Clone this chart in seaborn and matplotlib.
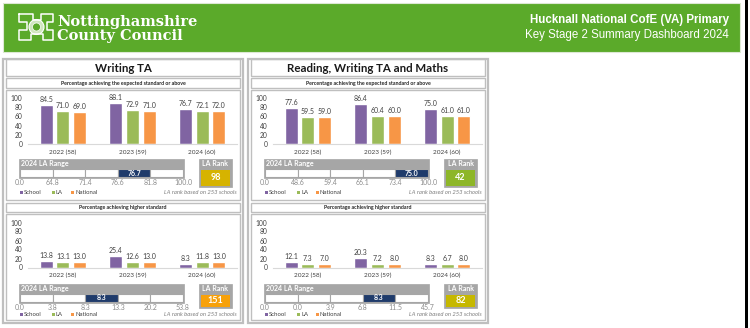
import numpy as np
import pandas as pd
import matplotlib
matplotlib.use("Agg")
import matplotlib.pyplot as plt
from matplotlib.patches import Rectangle, Circle
import seaborn as sns

# ---------------- data ----------------
years = ["2022 (58)", "2023 (59)", "2024 (60)"]
groups = ["School", "LA", "National"]

writing_exp_school = [84.5, 88.1, 76.7]
writing_exp_la = [71.0, 72.9, 72.1]
writing_exp_nat = [69.0, 71.0, 72.0]

writing_hi_school = [13.8, 25.4, 8.3]
writing_hi_la = [13.1, 12.6, 11.8]
writing_hi_nat = [13.0, 13.0, 13.0]

rwm_exp_school = [77.6, 86.4, 75.0]
rwm_exp_la = [59.5, 60.4, 61.0]
rwm_exp_nat = [59.0, 60.0, 61.0]

rwm_hi_school = [12.1, 20.3, 8.3]
rwm_hi_la = [7.3, 7.2, 6.7]
rwm_hi_nat = [7.0, 8.0, 8.0]

writing_exp_range = [0.0, 64.8, 71.4, 76.6, 81.8, 100.0]
writing_hi_range = [0.0, 3.8, 8.3, 13.3, 20.2, 53.8]
rwm_exp_range = [0.0, 48.6, 59.4, 66.1, 73.4, 100.0]
rwm_hi_range = [0.0, 0.0, 3.9, 6.8, 11.5, 45.7]

writing_exp_rank = 98
writing_hi_rank = 151
rwm_exp_rank = 42
rwm_hi_rank = 82
n_schools = 253

panel_titles = ["Writing TA", "Reading, Writing TA and Maths"]
sub_titles = ["Percentage achieving the expected standard or above",
              "Percentage achieving higher standard"]

# ---------------- style ----------------
sns.set_theme(style="white")
plt.rcParams["font.family"] = ["Lato", "DejaVu Sans"]

PAL = {"School": "#8064A2", "LA": "#9BBB59", "National": "#F79646"}
GREEN = "#5BAA2A"
BORDER = "#BFBFBF"
HDR_GREY = "#A6A6A6"
NAVY = "#1F3B6B"
TXT = "#404040"
rank_colors = {"we": "#D6B300", "wh": "#F7A10A", "re": "#8DB628", "rh": "#C6B800"}

W, H = 750, 328
fig = plt.figure(figsize=(W / 100, H / 100), dpi=100)
fig.patch.set_facecolor("white")

bg = fig.add_axes([0, 0, 1, 1])
bg.set_xlim(0, W)
bg.set_ylim(H, 0)
bg.axis("off")
bg.set_zorder(0)


def axpx(x0, y0, x1, y1):
    ax = fig.add_axes([x0 / W, 1 - y1 / H, (x1 - x0) / W, (y1 - y0) / H])
    ax.patch.set_alpha(0)
    ax.set_zorder(2)
    return ax


# ---------------- banner ----------------
bg.add_patch(Rectangle((3, 3), 737, 49, facecolor=GREEN, edgecolor="#DDE8D4", lw=0.8))
bg.add_patch(Rectangle((745, 0), 3, H, facecolor="black", edgecolor="none"))

# simplified logo
bg.plot([19, 19, 27, 27, 19, 19, 31, 31, 43, 43, 53, 53, 47, 47, 53, 53, 41, 41, 33, 33, 19],
        [14, 22, 22, 30, 30, 40, 40, 34, 34, 40, 40, 30, 30, 22, 22, 14, 14, 20, 20, 14, 14],
        color="white", lw=1.1)
bg.add_patch(Circle((36.5, 27), 7.5, facecolor="#CFE6BE", edgecolor="white", lw=0.8))
bg.add_patch(Circle((36.5, 27), 4, facecolor=GREEN, edgecolor="white", lw=0.5))

bg.text(57, 22, "Nottinghamshire", color="white", fontsize=10.5, fontweight="bold",
        family=["DejaVu Serif"], va="center", ha="left")
bg.text(57, 36, "County Council", color="white", fontsize=10.5, fontweight="bold",
        family=["DejaVu Serif"], va="center", ha="left")
bg.text(729, 20.5, "Hucknall National CofE (VA) Primary", color="white", fontsize=8.3,
        fontweight="bold", family=["Liberation Sans", "DejaVu Sans"], va="center", ha="right")
bg.text(729, 35, "Key Stage 2 Summary Dashboard 2024", color="white", fontsize=8.3,
        family=["Liberation Sans", "DejaVu Sans"], va="center", ha="right")


# ---------------- helpers ----------------
def bar_chart(x0, y_top, y_zero, school, la, nat):
    df = pd.DataFrame({
        "year": years * 3,
        "group": ["School"] * 3 + ["LA"] * 3 + ["National"] * 3,
        "value": list(school) + list(la) + list(nat),
    })
    ax = axpx(x0 + 25, y_top, x0 + 234, y_zero)
    sns.barplot(data=df, x="year", y="value", hue="group", hue_order=groups,
                palette=PAL, width=0.72, gap=0.22, saturation=1, legend=False, ax=ax)
    ax.set_ylim(0, 100)
    ax.set_xlim(-0.5, 2.5)
    ax.set_yticks([0, 20, 40, 60, 80, 100])
    ax.set_xlabel("")
    ax.set_ylabel("")
    for s in ["top", "right", "left"]:
        ax.spines[s].set_visible(False)
    ax.spines["bottom"].set_color("#D9D9D9")
    ax.spines["bottom"].set_linewidth(0.8)
    ax.tick_params(axis="y", length=0, pad=4, labelsize=4.8, labelcolor=TXT)
    ax.tick_params(axis="x", length=0, pad=4, labelsize=4.6, labelcolor=TXT)
    for c in ax.containers:
        ax.bar_label(c, fmt="%.1f", padding=1.5, fontsize=5, color=TXT)
    return ax


def range_box(x0, y0, bounds, school_val):
    bg.add_patch(Rectangle((x0 + 16, y0), 165, 19, facecolor=HDR_GREY, edgecolor=HDR_GREY, lw=0.5))
    bg.text(x0 + 18, y0 + 4.5, "2024 LA Range", color="white", fontsize=5, fontweight="bold",
            va="center", ha="left")
    ax = axpx(x0 + 17, y0 + 10, x0 + 180, y0 + 18)
    ax.set_zorder(3)
    idx = int(np.searchsorted(bounds, school_val, side="right")) - 1
    idx = min(max(idx, 0), len(bounds) - 2)
    colors = ["white"] * (len(bounds) - 1)
    colors[idx] = NAVY
    ax.bar(np.arange(len(bounds) - 1), np.ones(len(bounds) - 1), width=1, align="edge",
           color=colors, edgecolor=HDR_GREY, linewidth=0.8)
    ax.set_xlim(0, len(bounds) - 1)
    ax.set_ylim(0, 1)
    ax.axis("off")
    ax.text(idx + 0.5, 0.5, f"{school_val:.1f}", color="white", fontsize=5, fontweight="bold",
            ha="center", va="center")
    for i, b in enumerate(bounds):
        ax.text(i, -0.25, f"{b:.1f}", color="#8C8C8C", fontsize=5, ha="center", va="top",
                clip_on=False)


def rank_box(x0, y0, h, rank, color):
    bg.add_patch(Rectangle((x0 + 196, y0), 33, h, facecolor=HDR_GREY, edgecolor=HDR_GREY, lw=0.5))
    bg.text(x0 + 212.5, y0 + 4.5, "LA Rank", color="white", fontsize=5, fontweight="bold",
            ha="center", va="center")
    bg.add_patch(Rectangle((x0 + 198, y0 + 10.5), 29, h - 12, facecolor=color, edgecolor="none"))
    bg.text(x0 + 212.5, y0 + 10.5 + (h - 12) / 2, str(rank), color="white", fontsize=6.5,
            fontweight="bold", ha="center", va="center")


def legend_row(x0, y):
    xs = [x0 + 17, x0 + 49, x0 + 68]
    for xx, g in zip(xs, groups):
        bg.add_patch(Rectangle((xx, y - 1.6), 3, 3, facecolor=PAL[g], edgecolor="none"))
        bg.text(xx + 4, y, g, color=TXT, fontsize=4.3, va="center", ha="left")
    bg.text(x0 + 234, y, f"LA rank based on {n_schools} schools", color="#7F7F7F",
            fontsize=4.2, style="italic", va="center", ha="right")


def panel(x0, title, exp_data, hi_data, exp_range, hi_range, exp_rank, hi_rank, c_exp, c_hi):
    bg.add_patch(Rectangle((x0, 59), 240, 264, facecolor="white", edgecolor=BORDER, lw=1.6))
    for (yy, hh) in [(59, 17), (78, 10), (90, 110), (202.5, 9.5), (214, 106)]:
        bg.add_patch(Rectangle((x0 + 3, yy), 234, hh, facecolor="none", edgecolor=BORDER, lw=1.0))
    bg.text(x0 + 120, 68.5, title, fontsize=8.3, fontweight="bold", color="#1A1A1A",
            ha="center", va="center")
    bg.text(x0 + 120, 83.5, sub_titles[0], fontsize=3.8, fontweight="bold", color="#262626",
            ha="center", va="center")
    bg.text(x0 + 120, 207.5, sub_titles[1], fontsize=3.8, fontweight="bold", color="#262626",
            ha="center", va="center")

    bar_chart(x0, 98, 144, *exp_data)
    range_box(x0, 159, exp_range, exp_data[0][-1])
    rank_box(x0, 159, 28, exp_rank, c_exp)
    legend_row(x0, 192.5)

    bar_chart(x0, 222.5, 267.5, *hi_data)
    range_box(x0, 284, hi_range, hi_data[0][-1])
    rank_box(x0, 284, 24, hi_rank, c_hi)
    legend_row(x0, 315)


panel(3, panel_titles[0],
      (writing_exp_school, writing_exp_la, writing_exp_nat),
      (writing_hi_school, writing_hi_la, writing_hi_nat),
      writing_exp_range, writing_hi_range, writing_exp_rank, writing_hi_rank,
      rank_colors["we"], rank_colors["wh"])
panel(248, panel_titles[1],
      (rwm_exp_school, rwm_exp_la, rwm_exp_nat),
      (rwm_hi_school, rwm_hi_la, rwm_hi_nat),
      rwm_exp_range, rwm_hi_range, rwm_exp_rank, rwm_hi_rank,
      rank_colors["re"], rank_colors["rh"])

fig.savefig("out.png", dpi=100, facecolor="white")
